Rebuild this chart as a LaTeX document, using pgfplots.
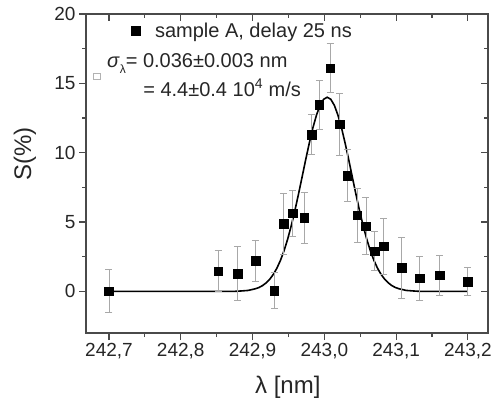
\documentclass[border=0pt]{standalone}
\usepackage{fontspec}
\setmainfont{Liberation Sans}
\usepackage{pgfplots}
\usepackage{pgfplotstable}
\pgfplotsset{compat=1.18}
\definecolor{axgray}{HTML}{4A4A4A}
\definecolor{errgray}{HTML}{A8A8A8}

% measured points: lambda, S, error
\pgfplotstableread{
x y e
242.700 0.00 1.55
242.852 1.46 1.50
242.879 1.27 1.95
242.904 2.20 1.50
242.930 0.07 1.30
242.943 4.89 2.20
242.956 5.63 1.65
242.972 5.30 1.85
242.982 11.30 1.45
242.993 13.45 1.77
243.008 16.10 1.75
243.021 12.06 2.24
243.032 8.35 1.90
243.046 5.50 1.95
243.058 4.70 2.05
243.070 2.90 1.42
243.083 3.26 2.02
243.108 1.70 2.18
243.133 0.94 1.58
243.161 1.17 1.45
243.200 0.70 1.00
}\pointtab

% gaussian fit, tabulated
\pgfplotstableread{
x y
242.700 0.00
242.874 0.00
242.884 0.03
242.894 0.07
242.904 0.19
242.909 0.28
242.914 0.42
242.919 0.62
242.924 0.88
242.929 1.23
242.934 1.68
242.939 2.25
242.944 2.95
242.949 3.78
242.954 4.75
242.959 5.83
242.964 7.01
242.969 8.24
242.974 9.49
242.979 10.68
242.984 11.78
242.989 12.70
242.994 13.41
242.999 13.85
243.004 14.00
243.009 13.85
243.014 13.41
243.019 12.70
243.024 11.78
243.029 10.68
243.034 9.49
243.039 8.24
243.044 7.01
243.049 5.83
243.054 4.75
243.059 3.78
243.064 2.95
243.069 2.25
243.074 1.68
243.079 1.23
243.084 0.88
243.089 0.62
243.094 0.42
243.099 0.28
243.104 0.19
243.114 0.07
243.124 0.03
243.134 0.00
243.200 0.00
}\fittab

\begin{document}
\begin{tikzpicture}
\pgfplotsset{
 frame/.style={
  scale only axis, width=402pt, height=319pt,
  xmin=242.668, xmax=243.228, ymin=-3, ymax=20,
  xtick={242.7,242.8,242.9,243.0,243.1,243.2},
  ytick={0,5,10,15,20},
  minor x tick num=1, minor y tick num=1,
  major tick length=7pt, minor tick length=4pt,
  axis line style={draw=axgray, line width=1.4pt},
  every tick/.style={axgray, line width=1.1pt},
 }
}
\begin{axis}[frame,
 tick align=outside, xtick pos=left, ytick pos=left,
 /pgf/number format/assume math mode=true,
 xticklabel style={/pgf/number format/.cd, fixed, fixed zerofill, precision=1, use comma, 1000 sep={}},
 yticklabel style={/pgf/number format/.cd, fixed, precision=0},
 tick label style={font=\fontsize{19}{22}\selectfont, text=black!85},
 label style={font=\fontsize{24}{28}\selectfont, text=black!85},
 xlabel={λ [nm]}, ylabel={S(\%)},
 xlabel style={at={(axis description cs:0.502,-0.169)}, anchor=center},
 ylabel style={at={(axis description cs:-0.152,0.561)}, anchor=center, rotate=0},
 legend style={at={(axis description cs:0.105,0.985)}, anchor=north west, draw=none, fill=none,
   font=\fontsize{20}{24}\selectfont, text=black!85},
 legend cell align=left,
]
\addplot[black, line width=1.6pt, forget plot] table[x=x, y=y] {\fittab};
\addplot[only marks, mark=square*, mark size=4.3pt, black,
 error bars/.cd, y dir=both, y explicit,
 error bar style={errgray, line width=0.9pt},
 error mark options={errgray, rotate=90, mark size=3.5pt, line width=0.9pt}]
 table[x=x, y=y, y error=e] {\pointtab};
\addlegendentry{\hspace{13pt}sample A, delay 25 ns}
\node[anchor=west, font=\fontsize{20}{24}\selectfont, text=black!85, inner sep=0pt]
 at (axis description cs:0.052,0.846) {\textit{σ}\raisebox{-0.55ex}{\fontsize{12}{12}\selectfont λ}= 0.036±0.003 nm};
\node[anchor=west, font=\fontsize{20}{24}\selectfont, text=black!85, inner sep=0pt]
 at (axis description cs:0.142,0.768) {= 4.4±0.4 10\textsuperscript{4} m/s};
\node[draw=gray!60, line width=0.6pt, minimum width=7pt, minimum height=6pt, inner sep=0pt]
 at (axis description cs:0.027,0.806) {};
\end{axis}
\begin{axis}[frame, tick align=inside, xtick pos=right, ytick pos=right,
 xticklabels={}, yticklabels={}]
\end{axis}
\pgfresetboundingbox
\path[use as bounding box] (current axis.south west) ++(-86pt,-70pt) rectangle ([shift={(3pt,14pt)}]current axis.north east);
\end{tikzpicture}
\end{document}
